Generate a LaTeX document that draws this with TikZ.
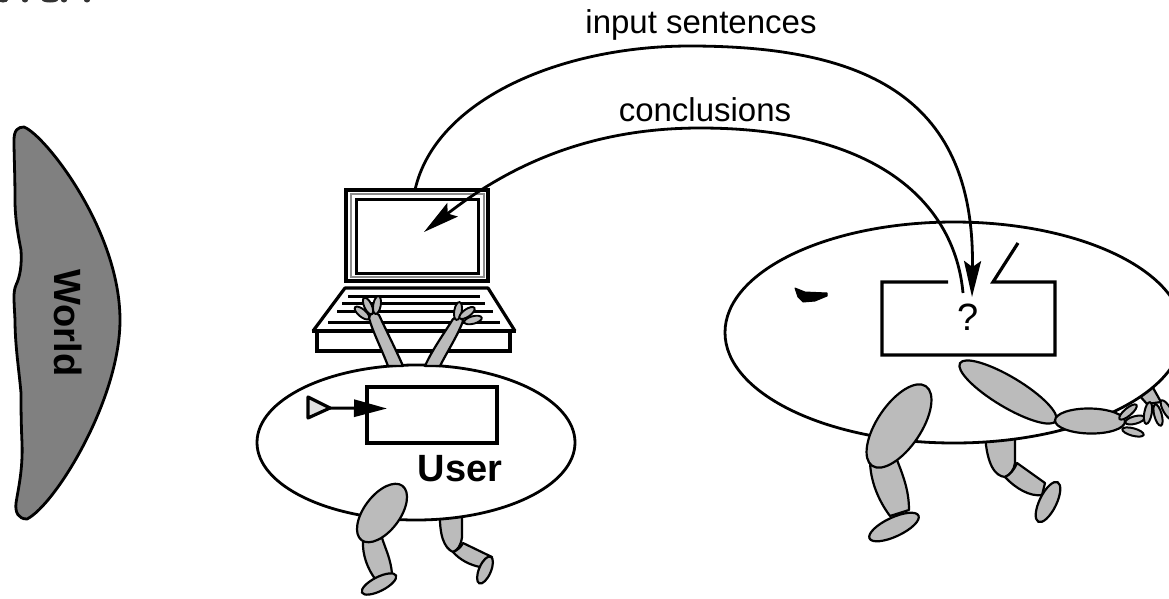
\documentclass[tikz,border=0pt]{standalone}
\usepackage{fontspec}
\setmainfont{Liberation Sans}
\usetikzlibrary{arrows.meta,shapes.geometric}
\definecolor{limbgray}{HTML}{BBBBBB}
\definecolor{worldgray}{HTML}{808080}
\tikzset{
  limb/.style={ellipse,draw=black,fill=limbgray,line width=2.2pt,inner sep=0pt,outer sep=0pt},
  limbpath/.style={draw=black,fill=limbgray,line width=2.2pt,line join=round},
  body/.style={ellipse,draw=black,fill=white,line width=2.8pt,inner sep=0pt,outer sep=0pt},
  membox/.style={rectangle,draw=black,line width=3.2pt,fill=white,inner sep=0pt,outer sep=0pt},
  frame/.style={rectangle,draw=black,line width=3.2pt,inner sep=0pt,outer sep=0pt},
  keyline/.style={draw=black,line width=3pt},
  bigarrow/.style={line width=2.8pt,-{Stealth[length=36pt,width=17pt,inset=6pt]}},
  labeltext/.style={font=\fontsize{33}{36}\selectfont,inner sep=0pt},
  boldtext/.style={font=\fontsize{38}{40}\selectfont\bfseries,inner sep=0pt},
}
\begin{document}
\begin{tikzpicture}[x=1pt,y=-1pt]
\useasboundingbox (0,0) rectangle (1169,598);
% clipped fragments along the top edge
\fill[black!80] (3,0) ellipse (5 and 2.5);
\fill[black!80] (25,0) ellipse (3 and 2.5);
\fill[black!80] (50,0) ellipse (8 and 2.5);
\fill[black!80] (64,0) ellipse (3 and 2.5);
\fill[black!80] (87,0) ellipse (3 and 2.5);
% World
\draw[fill=worldgray,line width=2.8pt,line join=round]
  (14,140) .. controls (14,130) and (18,127) .. (24,127)
  .. controls (45,135) and (120,230) .. (120,320)
  .. controls (120,400) and (55,505) .. (27,519)
  .. controls (18,519) and (15,512) .. (16,503)
  .. controls (18,490) and (23,470) .. (22,443)
  .. controls (21,420) and (21,405) .. (21,393)
  .. controls (19,370) and (15,345) .. (15,320)
  .. controls (14,300) and (13,292) .. (16,285)
  .. controls (20,277) and (22,265) .. (21,250)
  .. controls (17,230) and (15,215) .. (15,200)
  .. controls (15,175) and (14,155) .. (14,140) -- cycle;
\node[boldtext,rotate=-90] (world) at (68,323) {World};
% Laptop
\draw[keyline,line width=3.2pt,line join=round] (313,331) -- (345,288) -- (488,288) -- (515,331);
\foreach \ya/\xa/\xb in {296/348/480,303/342/485,311/337/493,322/328/500}
  \draw[keyline] (\xa,\ya) -- (\xb,\ya);
\draw[draw=black,line width=3.2pt,fill=white] (317,331) rectangle (510,351);
\draw[line width=3.4pt] (312,331) -- (516,331);
\node[frame,minimum width=142pt,minimum height=91pt] (lapouter) at (417,235.5) {};
\node[frame,minimum width=122pt,minimum height=74pt] (screen) at (417.5,236.5) {};
\draw[line width=2pt,black!45] (351,194) rectangle (484,277);
% User's rear leg
\draw[limbpath] (440,510) -- (462,510) -- (462,537) .. controls (461,545) and (458,550) .. (453,552) .. controls (444,548) and (439,535) .. (440,510) -- cycle;
\draw[limbpath] (463,543) -- (492,557) -- (480,567) .. controls (470,565) and (460,560) .. (453,552) .. controls (458,550) and (461,547) .. (463,543) -- cycle;
\node[limb,minimum width=29pt,minimum height=12pt,rotate=67] (ufootr) at (485,570) {};
% User
\node[body,minimum width=318pt,minimum height=155pt] (user) at (416,442.5) {};
\node[membox,minimum width=130pt,minimum height=56pt] (usermem) at (432,415) {};
\node[boldtext] (usertext) at (460,469) {User};
% User's arms
\draw[limbpath] (388,366) .. controls (382,350) and (372,330) .. (369,318) .. controls (369,313) and (376,311) .. (379,315) .. controls (387,332) and (396,350) .. (403,366) -- cycle;
\draw[limbpath] (425,366) .. controls (432,350) and (445,332) .. (453,319) .. controls (456,316) and (463,317) .. (463,321) .. controls (458,335) and (447,352) .. (440,366) -- cycle;
\foreach \px/\py/\ang in {362/313/-40,368/306/-65,377/305/-100}
  \node[limb,line width=1.9pt,minimum width=18pt,minimum height=7.5pt,rotate=\ang] at (\px,\py) {};
\foreach \px/\py/\ang in {458/311/80,467/313/35,473/320/15}
  \node[limb,line width=1.9pt,minimum width=18pt,minimum height=7.5pt,rotate=\ang] at (\px,\py) {};
% User's front leg
\draw[limbpath] (363,540) .. controls (362,555) and (368,570) .. (376,580) -- (392,574) .. controls (391,560) and (386,550) .. (382,538) -- cycle;
\node[limb,minimum width=38pt,minimum height=14pt,rotate=27] (ufootl) at (379,584) {};
\node[limb,minimum width=68pt,minimum height=36pt,rotate=53] (uthighl) at (382,513) {};
% User's eye
\coordinate (eyetip) at (330,408);
\coordinate (eyegaze) at (387,408.5);
\draw[line width=3.2pt,line join=round,fill=black!12] (308,397) -- (eyetip) -- (308,418) -- cycle;
\draw[line width=3pt,draw=black!75,-{Stealth[length=33pt,width=17pt,inset=0pt]},black] (eyetip) -- (eyegaze);
% Right rear hand
\draw[limbpath] (1138,394) -- (1152,386) -- (1161,402) -- (1147,404) -- cycle;
% Right rear leg
\draw[limbpath] (985,435) -- (1015,435) -- (1015,463) .. controls (1014,470) and (1010,475) .. (1005,477) .. controls (995,476) and (987,465) .. (985,435) -- cycle;
\draw[limbpath] (1017,463) -- (1045,483) -- (1042,495) .. controls (1030,497) and (1015,488) .. (1005,477) .. controls (1010,475) and (1014,470) .. (1017,463) -- cycle;
\node[limb,minimum width=44pt,minimum height=17pt,rotate=64] (rfootr) at (1048,502) {};
% Reasoner
\node[body,minimum width=458pt,minimum height=221pt] (reasoner) at (954,332.5) {};
\coordinate (slotleft) at (948,282);
\coordinate (slotright) at (993,282);
\coordinate (flaptop) at (1018,243);
\draw[line width=3.2pt,line join=miter,line cap=butt] (slotleft) -- (882,282) -- (882,355) -- (1055,355) -- (1055,282) -- (slotright) -- (flaptop);
\node[labeltext,font=\fontsize{38}{40}\selectfont] (query) at (968,317) {?};
\draw[fill=black,line join=round,line width=1pt] (795,288) -- (805,292) -- (827,293) -- (827,296) -- (815,301) -- (803,302) -- (798,297) -- cycle;
% Reasoner limbs
\draw[limbpath] (870,460) .. controls (870,480) and (878,500) .. (890,516) -- (909,510) .. controls (909,490) and (903,475) .. (895,455) -- cycle;
\node[limb,minimum width=54pt,minimum height=19pt,rotate=25] (rfootl) at (894,527) {};
\node[limb,minimum width=96pt,minimum height=44pt,rotate=56] (rthighl) at (899,426) {};
\node[limb,minimum width=112pt,minimum height=30pt,rotate=-31] (rarmup) at (1008,392) {};
\node[limb,minimum width=70pt,minimum height=25pt,rotate=-1] (rarmlow) at (1090,421) {};
\foreach \px/\py/\ang/\wd in {1128/412/40/22,1135/420/15/20,1133/432/-15/22,1148/413/80/22,1158/415/105/22,1167/410/120/22}
  \node[limb,line width=2pt,minimum width=\wd pt,minimum height=7.5pt,rotate=\ang] at (\px,\py) {};
% Connectors
\coordinate (inputstart) at (415,190);
\coordinate (inputend) at (972,297);
\coordinate (conclstart) at (963,293);
\coordinate (conclend) at (424,232);
\draw[bigarrow] (inputstart) .. controls (435,100) and (560,46) .. (690,46) .. controls (870,46) and (975,100) .. (inputend);
\draw[bigarrow] (conclstart) .. controls (955,205) and (880,128) .. (700,128) .. controls (590,128) and (510,165) .. (conclend);
\node[labeltext] (inputlabel) at (701,25) {input sentences};
\node[labeltext] (concllabel) at (705,110) {conclusions};
\end{tikzpicture}
\end{document}
